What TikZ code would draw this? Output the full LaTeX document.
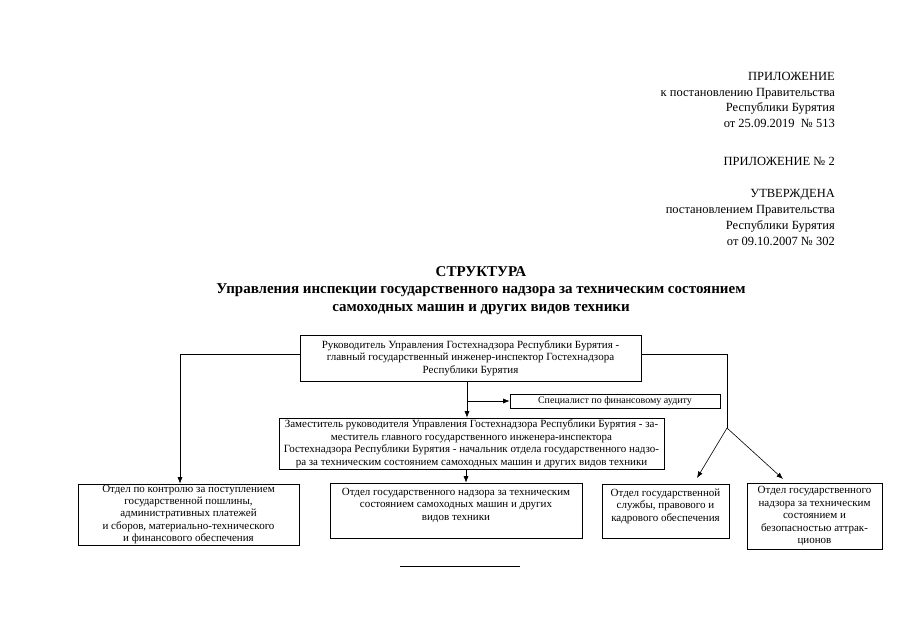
\documentclass[tikz,border=0pt]{standalone}
\usepackage{fontspec}
\setmainfont{Liberation Serif}
\usetikzlibrary{positioning,arrows.meta}

\begin{document}
\begin{tikzpicture}[
              x=1pt, y=-1pt,
              box/.style={
                  draw,
                  rectangle,
                  align=center,
                  inner sep=0.5pt,
                  line width=0.6pt,
                  font=\fontsize{11}{12.5}\selectfont,
                },
              head/.style={
                  align=right,
                  anchor=east,
                  inner sep=0pt,
                  font=\fontsize{12.5}{15.8}\selectfont,
                },
              arr/.style={-{Latex[length=6.5pt,width=5pt]}, line width=0.6pt}
            ]
            \useasboundingbox (0,0) rectangle (905,640);
            % header
            \node[head] (app1) at (835,100) {ПРИЛОЖЕНИЕ\\к постановлению Правительства\\Республики Бурятия\\от 25.09.2019~~№ 513};
            \node[head] (app2) at (835,161) {ПРИЛОЖЕНИЕ № 2};
            \node[head] (appr) at (835,217.5) {УТВЕРЖДЕНА\\постановлением Правительства\\Республики Бурятия\\от 09.10.2007 № 302};
            \node[align=center, inner sep=0pt, font=\fontsize{15}{17.5}\selectfont\bfseries] (title) at (481,290.5)
            {СТРУКТУРА\\Управления инспекции государственного надзора за техническим состоянием\\самоходных машин и других видов техники};
            % boxes
            \node[box, minimum width=341, minimum height=46] (chief) at (470.5,358)
            {Руководитель Управления Гостехнадзора Республики Бурятия -\\главный государственный инженер-инспектор Гостехнадзора\\Республики Бурятия};
            \node[box, minimum width=210, minimum height=14, inner sep=0pt, font=\fontsize{10}{12}\selectfont] (audit) at (615,401)
            {Специалист по финансовому аудиту};
            \node[box, minimum width=385, minimum height=51] (deputy) at (471.5,443.5)
            {Заместитель руководителя Управления Гостехнадзора Республики Бурятия - за-\\меститель главного государственного инженера-инспектора\\Гостехнадзора Республики Бурятия - начальник отдела государственного надзо-\\ра за техническим состоянием самоходных машин и других видов техники};
            \node[box, minimum width=221, minimum height=61, font=\fontsize{11}{12.3}\selectfont] (dfin) at (188.5,514.5)
            {Отдел по контролю за поступлением\\государственной пошлины,\\административных платежей\\и сборов, материально-технического\\и финансового обеспечения};
            \node[box, minimum width=252, minimum height=55] (dtech) at (456,510.5)
            {Отдел государственного надзора за техническим\\состоянием самоходных машин и других\\видов техники\\\mbox{}};
            \node[box, minimum width=127, minimum height=54] (dstaff) at (665.5,511)
            {Отдел государственной\\службы, правового и\\кадрового обеспечения\\\mbox{}};
            \node[box, minimum width=135, minimum height=66] (dride) at (814.5,516)
            {Отдел государственного\\надзора за техническим\\состоянием и\\безопасностью аттрак-\\ционов};
            % connectors
            \coordinate (split) at (727,428);
            \coordinate (tstaff) at (697,478);
            \coordinate (tride) at (783,479);
            \draw[arr] ([yshift=4pt]chief.west) -| ([xshift=-8.5pt]dfin.north);
            \draw[line width=0.6pt] ([yshift=4pt]chief.east) -| (split);
            \draw[arr] (split) -- (tstaff);
            \draw[arr] (split) -- (tride);
            \draw[arr] ([xshift=-3.5pt]chief.south) -- ([xshift=-3.5pt]chief.south |- deputy.north);
            \draw[arr] ([xshift=-3.5pt]chief.south |- audit.west) -- (audit.west);
            \draw[arr] ([xshift=-5.5pt]deputy.south) -- ([xshift=-5.5pt]deputy.south |- dtech.north);
            % bottom rule
            \draw[line width=0.8pt] (400,566) -- (520,566);
          \end{tikzpicture}
\end{document}
